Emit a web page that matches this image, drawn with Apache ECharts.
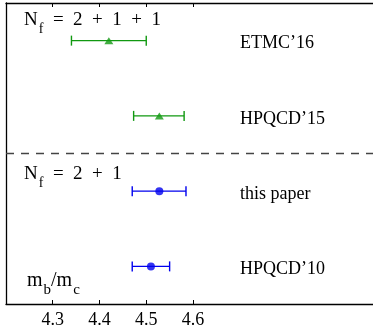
<!DOCTYPE html>
<html><head><meta charset="utf-8">
<script src="https://cdn.jsdelivr.net/npm/echarts@6/dist/echarts.min.js"></script>
<style>html,body{margin:0;padding:0;background:#fff;overflow:hidden}#c{width:373px;height:334px}</style>
</head><body><div id="c"></div>
<script>
const labels = ["ETMC’16", "HPQCD’15", "this paper", "HPQCD’10"];
const rows = [4, 3, 2, 1];
const centers = [4.42, 4.528, 4.528, 4.51];
const lows = [4.34, 4.473, 4.47, 4.47];
const highs = [4.50, 4.581, 4.585, 4.55];
const groupOf = [0, 0, 1, 1];
const groupNames = ["N_f = 2 + 1 + 1", "N_f = 2 + 1"];
const separatorRow = 2.5;
const tickValues = [4.3, 4.4, 4.5, 4.6];
const xMin = 4.2, xMax = 5.0, yMin = 0.5, yMax = 4.5;

const FONT = 'Liberation Serif';
const colors = ['#119911', '#0000ee'];
const symbols = ['triangle', 'circle'];
const symbolSizes = [[9, 7], 8];

function idx(g) { return rows.map((r, i) => i).filter(i => groupOf[i] === g); }

const series = [];
[0, 1].forEach(g => {
  const ids = idx(g);
  series.push({
    type: 'custom',
    coordinateSystem: 'cartesian2d',
    data: ids.map(i => [lows[i], highs[i], rows[i]]),
    renderItem: function (params, api) {
      const p1 = api.coord([api.value(0), api.value(2)]);
      const p2 = api.coord([api.value(1), api.value(2)]);
      const h = 5;
      const st = { stroke: colors[g], lineWidth: 1.4 };
      return {
        type: 'group',
        children: [
          { type: 'line', shape: { x1: p1[0], y1: p1[1], x2: p2[0], y2: p2[1] }, style: st },
          { type: 'line', shape: { x1: p1[0], y1: p1[1] - h, x2: p1[0], y2: p1[1] + h }, style: st },
          { type: 'line', shape: { x1: p2[0], y1: p2[1] - h, x2: p2[0], y2: p2[1] + h }, style: st }
        ]
      };
    },
    silent: true, z: 2
  });
  series.push({
    type: 'scatter',
    data: ids.map(i => [centers[i], rows[i]]),
    symbol: symbols[g],
    symbolSize: symbolSizes[g],
    itemStyle: { color: colors[g] },
    z: 3,
    markLine: g === 0 ? {
      silent: true, symbol: 'none', label: { show: false },
      lineStyle: { color: '#444', width: 1.3, type: [8, 7] },
      data: [{ yAxis: separatorRow }]
    } : undefined
  });
});

function xAxisDef(pos, showLabels) {
  return {
    type: 'value', min: xMin, max: xMax, position: pos,
    axisLine: { show: true, onZero: false, lineStyle: { color: '#000', width: 1.3 } },
    axisTick: { show: true, inside: true, length: 4, customValues: tickValues, lineStyle: { color: '#000' } },
    axisLabel: showLabels ? { show: true, customValues: tickValues, margin: 7, color: '#000', fontFamily: FONT, fontSize: 18,
      formatter: v => v.toFixed(1) } : { show: false },
    splitLine: { show: false }
  };
}

const chart = echarts.init(document.getElementById('c'));
chart.setOption({
  animation: false,
  backgroundColor: '#fff',
  grid: { left: 6, right: -7, top: 3, bottom: 30, containLabel: false, outerBoundsMode: 'none' },
  xAxis: [xAxisDef('bottom', true), xAxisDef('top', false)],
  yAxis: {
    type: 'value', min: yMin, max: yMax, position: 'left',
    axisLine: { show: true, onZero: false, lineStyle: { color: '#000', width: 1.3 } },
    axisTick: { show: false }, axisLabel: { show: false }, splitLine: { show: false }
  },
  series: series
});

function rich(str, x, y, mainSize, subSize, drop) {
  const parts = str.split(/_(\w)/);
  let t = '';
  parts.forEach((p, k) => { t += (k % 2 === 1) ? '{s|' + p + '}' : (p ? '{m|' + p + '}' : ''); });
  return {
    type: 'text', left: x, top: y, silent: true,
    style: {
      text: t, fill: '#000',
      rich: {
        m: { fontFamily: FONT, fontSize: mainSize, lineHeight: mainSize + 4, fill: '#000' },
        s: { fontFamily: FONT, fontSize: subSize, lineHeight: subSize, padding: [drop, 0, 0, 1], fill: '#000' }
      }
    }
  };
}

const graphics = [];
const labelX = 240;
rows.forEach((r, i) => {
  const py = chart.convertToPixel({ xAxisIndex: 0, yAxisIndex: 0 }, [xMin, r])[1];
  graphics.push({ type: 'text', x: labelX, y: py + 3, silent: true,
    style: { text: labels[i], fontFamily: FONT, fontSize: 18, fill: '#000', verticalAlign: 'middle', align: 'left' } });
});
graphics.push(rich(groupNames[0].replace(/ ([=+]) /g, '  $1  '), 24, 4, 19, 14, 18));
graphics.push(rich(groupNames[1].replace(/ ([=+]) /g, '  $1  '), 24, 158, 19, 14, 18));
graphics.push(rich('m_b/m_c', 27, 264, 20, 15, 19));
chart.setOption({ graphic: graphics });
</script></body></html>
